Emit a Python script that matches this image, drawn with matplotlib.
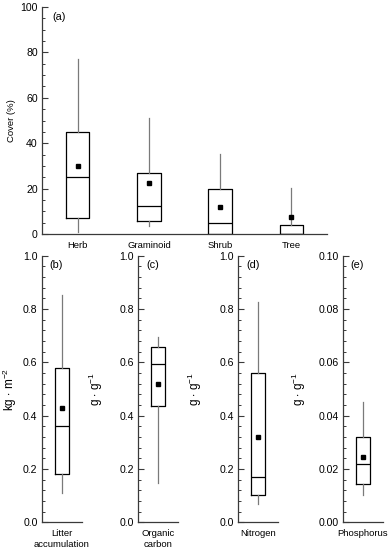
import matplotlib
matplotlib.use("Agg")
import matplotlib.pyplot as plt
from matplotlib.ticker import MultipleLocator

plt.rcParams["font.family"] = ["Liberation Sans", "DejaVu Sans"]
plt.rcParams["mathtext.fontset"] = "custom"
plt.rcParams["mathtext.rm"] = "Liberation Sans"
plt.rcParams["mathtext.it"] = "Liberation Sans"

# panel (a): cover of growth forms
cover_labels = ["Herb", "Graminoid", "Shrub", "Tree"]
cover_whislo = [0.9, 3.7, 0.0, 0.0]
cover_q1 = [6.9, 5.9, 0.0, 0.0]
cover_med = [25.3, 12.3, 4.8, 0.0]
cover_q3 = [44.8, 26.9, 19.9, 4.0]
cover_whishi = [77.0, 51.1, 35.1, 20.2]
cover_mean = [30.0, 22.4, 12.0, 7.5]

# panels (b)-(e): litter and soil
soil_labels = ["Litter\naccumulation", "Organic\ncarbon", "Nitrogen", "Phosphorus"]
soil_tags = ["(b)", "(c)", "(d)", "(e)"]
soil_units = [r"kg $\cdot$ m$^{-2}$", r"g $\cdot$ g$^{-1}$", r"g $\cdot$ g$^{-1}$", r"g $\cdot$ g$^{-1}$"]
soil_whislo = [0.108, 0.146, 0.069, 0.0104]
soil_q1 = [0.181, 0.437, 0.102, 0.0143]
soil_med = [0.361, 0.592, 0.171, 0.0219]
soil_q3 = [0.577, 0.658, 0.561, 0.0320]
soil_whishi = [0.851, 0.694, 0.825, 0.0453]
soil_mean = [0.430, 0.520, 0.320, 0.0244]
soil_ymax = [1.0, 1.0, 1.0, 0.10]

spine_col = "#3a3a3a"
whisk_col = "#7a7a7a"

box_kw = dict(
    showmeans=True, showcaps=False, showfliers=False,
    boxprops=dict(color="black", linewidth=0.9),
    medianprops=dict(color="black", linewidth=0.9),
    whiskerprops=dict(color=whisk_col, linewidth=0.9),
    meanprops=dict(marker="s", markerfacecolor="black", markeredgecolor="black", markersize=3.5),
)


def style_axis(ax, major, minor):
    for s in ["top", "right"]:
        ax.spines[s].set_visible(False)
    for s in ["left", "bottom"]:
        ax.spines[s].set_color(spine_col)
        ax.spines[s].set_linewidth(0.9)
    ax.yaxis.set_major_locator(MultipleLocator(major))
    ax.yaxis.set_minor_locator(MultipleLocator(minor))
    ax.tick_params(axis="y", which="major", direction="in", length=4, width=0.8,
                   color=spine_col, labelsize=7.6, pad=3)
    ax.tick_params(axis="y", which="minor", direction="in", length=2.5, width=0.7, color=spine_col)
    ax.tick_params(axis="x", length=0, labelsize=6.8, pad=5)


fig = plt.figure(figsize=(3.89, 5.5), dpi=100)

# (a)
ax = fig.add_axes([0.108, 0.5745, 0.7326, 0.4127])
stats = []
for i in range(len(cover_labels)):
    stats.append(dict(label=cover_labels[i], whislo=cover_whislo[i], q1=cover_q1[i],
                      med=cover_med[i], q3=cover_q3[i], whishi=cover_whishi[i],
                      mean=cover_mean[i], fliers=[]))
ax.bxp(stats, positions=[1, 2, 3, 4], widths=0.33, **box_kw)
ax.set_xlim(0.5, 4.5)
ax.set_ylim(0, 100)
style_axis(ax, 20, 5)
ax.set_ylabel("Cover (%)", fontsize=6.8)
ax.yaxis.set_label_coords(-0.092, 0.5)
ax.text(0.035, 0.956, "(a)", transform=ax.transAxes, fontsize=7.8, va="center", ha="left")

# (b)-(e)
lefts = [0.1072, 0.3555, 0.6126, 0.881]
label_x = [-0.57, -0.83, -0.86, -0.87]
for i in range(4):
    ax = fig.add_axes([lefts[i], 0.0504, 0.1028, 0.4846])
    st = [dict(label=soil_labels[i], whislo=soil_whislo[i], q1=soil_q1[i], med=soil_med[i],
               q3=soil_q3[i], whishi=soil_whishi[i], mean=soil_mean[i], fliers=[])]
    ax.bxp(st, positions=[1], widths=0.35, **box_kw)
    ax.set_xlim(0.5, 1.5)
    ax.set_ylim(0, soil_ymax[i])
    style_axis(ax, soil_ymax[i] / 5, soil_ymax[i] / 25)
    ax.set_ylabel(soil_units[i], fontsize=8.5)
    ax.yaxis.set_label_coords(label_x[i], 0.5)
    ax.text(0.19, 0.966, soil_tags[i], transform=ax.transAxes, fontsize=7.8, va="center", ha="left")

fig.savefig("out.png", dpi=100)
